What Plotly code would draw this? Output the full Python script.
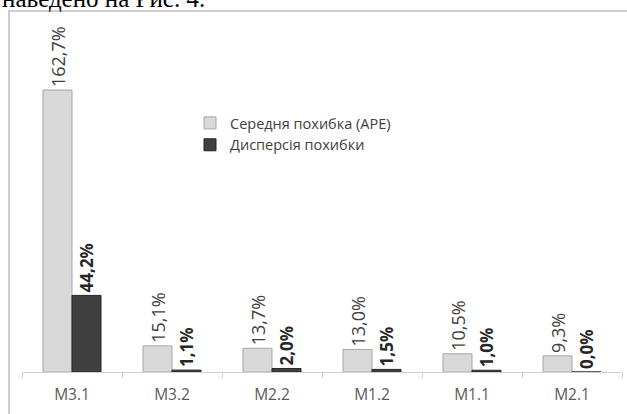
import plotly.graph_objects as go

# Model labels and error statistics (percent)
categories = ["M3.1", "M3.2", "M2.2", "M1.2", "M1.1", "M2.1"]
ape_mean = [162.7, 15.1, 13.7, 13.0, 10.5, 9.3]
ape_variance = [44.2, 1.1, 2.0, 1.5, 1.0, 0.0]

series_names = ["Середня похибка (APE)", "Дисперсія похибки"]


def pct(v):
    return f"{v:.1f}".replace(".", ",") + "%"


W, H = 627, 414
L, R, T, B = 22, 5, 20, 42
plot_w = W - L - R
plot_h = H - T - B


def px_x(px):
    return (px - L) / plot_w


def px_y(py):
    return (H - B - py) / plot_h


fig = go.Figure()
fig.add_trace(go.Bar(
    x=categories, y=ape_mean, name=series_names[0],
    marker=dict(color="#d9d9d9", line=dict(color="#a6a6a6", width=1)),
    text=[pct(v) for v in ape_mean], textposition="outside", textangle=-90,
    textfont=dict(family="Open Sans", size=18, color="#404040"),
    constraintext="none", cliponaxis=False,
))
fig.add_trace(go.Bar(
    x=categories, y=ape_variance, name=series_names[1],
    marker=dict(color="#404040", line=dict(color="#262626", width=1)),
    text=[f"<b>{pct(v)}</b>" for v in ape_variance], textposition="outside", textangle=-90,
    textfont=dict(family="Open Sans", size=17, color="#262626"),
    constraintext="none", cliponaxis=False,
))

fig.update_layout(
    width=W, height=H,
    margin=dict(l=L, r=R, t=T, b=B),
    paper_bgcolor="white", plot_bgcolor="white",
    barmode="group", bargap=0.42, bargroupgap=0.0,
    showlegend=True,
    legend=dict(
        x=px_x(190), y=px_y(107), xanchor="left", yanchor="top",
        font=dict(family="Open Sans", size=14.5, color="#404040"),
        bgcolor="rgba(255,255,255,0)", itemwidth=30, tracegroupgap=0,
    ),
    xaxis=dict(
        type="category", showline=True, linecolor="#d0d0d0", linewidth=1,
        ticks="outside", tickson="boundaries", ticklen=5, tickcolor="#d0d0d0",
        ticklabelstandoff=8,
        tickfont=dict(family="Open Sans", size=15.5, color="#595959"),
        showgrid=False, zeroline=False,
    ),
    yaxis=dict(range=[0, plot_h / 1.733], visible=False, showgrid=False, zeroline=False),
    shapes=[
        dict(type="rect", xref="paper", yref="paper",
             x0=px_x(9), x1=px_x(640), y0=px_y(430), y1=px_y(11),
             line=dict(color="#bdbdbd", width=1.5), fillcolor="rgba(0,0,0,0)", layer="below"),
    ],
    annotations=[
        dict(text="наведено на Рис. 4.", xref="paper", yref="paper",
             x=px_x(0), y=px_y(14), xanchor="left", yanchor="bottom",
             showarrow=False, font=dict(family="Liberation Serif", size=25, color="black")),
    ],
)

fig.write_html("out.html")
